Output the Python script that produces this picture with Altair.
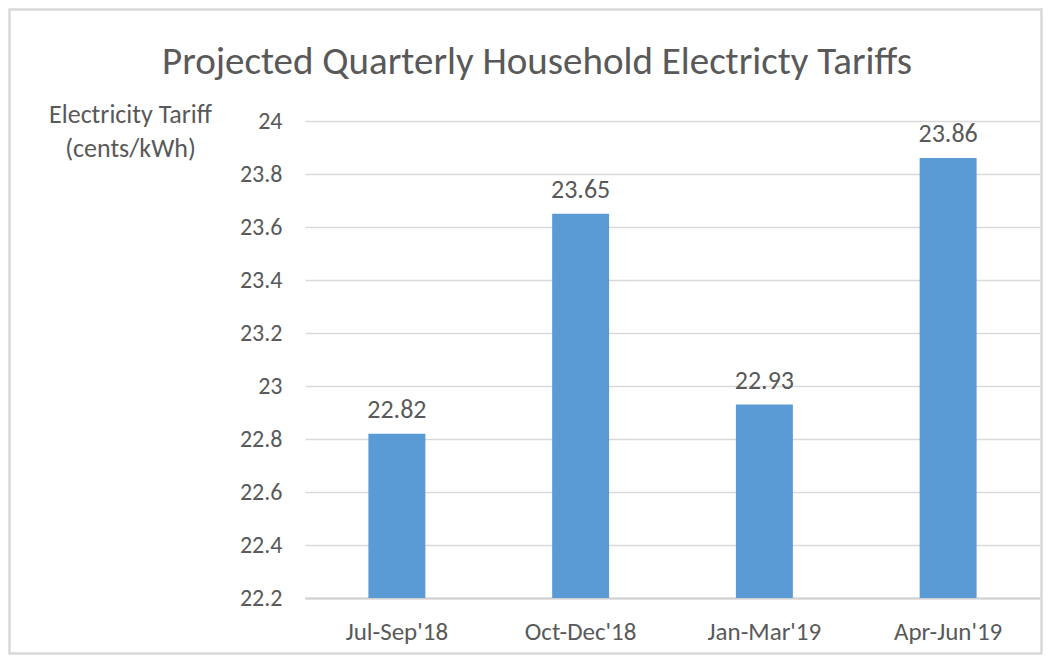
import altair as alt
import pandas as pd

quarters = ["Jul-Sep'18", "Oct-Dec'18", "Jan-Mar'19", "Apr-Jun'19"]
tariffs = [22.82, 23.65, 22.93, 23.86]
y_ticks = [22.2, 22.4, 22.6, 22.8, 23.0, 23.2, 23.4, 23.6, 23.8, 24.0]
title_text = ["Projected Quarterly Household Electricty Tariffs"]

df = pd.DataFrame({"quarter": quarters, "tariff": tariffs})

FONT = "Carlito, 'Liberation Sans Narrow', 'Open Sans', sans-serif"
GREY = "#595959"

W, H = 735, 477
PL, PT, PR, PB = 297, 113, 3, 57

base = alt.Chart(df)

bars = base.mark_bar(color="#5B9BD5").encode(
    x=alt.X("quarter:N", sort=quarters,
            scale=alt.Scale(paddingInner=0.69, paddingOuter=0.345),
            axis=alt.Axis(title=None, labelAngle=0, ticks=False, labelPadding=21,
                          labelFontSize=25, labelColor=GREY, labelFont=FONT,
                          domainColor="#d0d0d0", domainWidth=2, grid=False)),
    y=alt.Y("tariff:Q", scale=alt.Scale(domain=[22.2, 24], zero=False, nice=False),
            axis=alt.Axis(values=y_ticks, format="~g", ticks=False, domain=False,
                          labelPadding=23, labelFontSize=24, labelColor=GREY, labelFont=FONT,
                          gridColor="#d9d9d9", gridWidth=1.5,
                          title=["Electricity Tariff", "(cents/kWh)"], titleAngle=0,
                          titleAlign="center", titleBaseline="top", titleX=-175, titleY=-20,
                          titleFontSize=26, titleFontWeight="normal", titleColor=GREY,
                          titleFont=FONT, titleLineHeight=34)),
    y2=alt.datum(22.2),
)

labels = base.mark_text(baseline="bottom", dy=-11, fontSize=26, color=GREY, font=FONT).encode(
    x=alt.X("quarter:N", sort=quarters),
    y="tariff:Q",
    text=alt.Text("tariff:Q", format=".2f"),
)

frame = alt.Chart(pd.DataFrame({"k": [0]})).mark_rect(
    fill="transparent", stroke="#d9d9d9", strokeWidth=2.5
).encode(x=alt.value(-PL + 1.5), x2=alt.value(W + PR - 1.5),
         y=alt.value(-PT + 1.5), y2=alt.value(H + PB - 1.5))

title = alt.Chart(pd.DataFrame({"t": title_text})).mark_text(
    fontSize=39, font=FONT, color=GREY, align="center", baseline="middle"
).encode(x=alt.value(537 - 8 - PL), y=alt.value(62 - 8 - PT), text="t:N")

chart = alt.layer(frame, bars, labels, title).properties(
    width=W, height=H,
    padding={"left": PL, "top": PT, "right": PR, "bottom": PB},
    autosize=alt.AutoSizeParams(type="none"),
).configure_view(stroke=None)

chart.save("out.html", embed_options={"renderer": "svg", "actions": False})
